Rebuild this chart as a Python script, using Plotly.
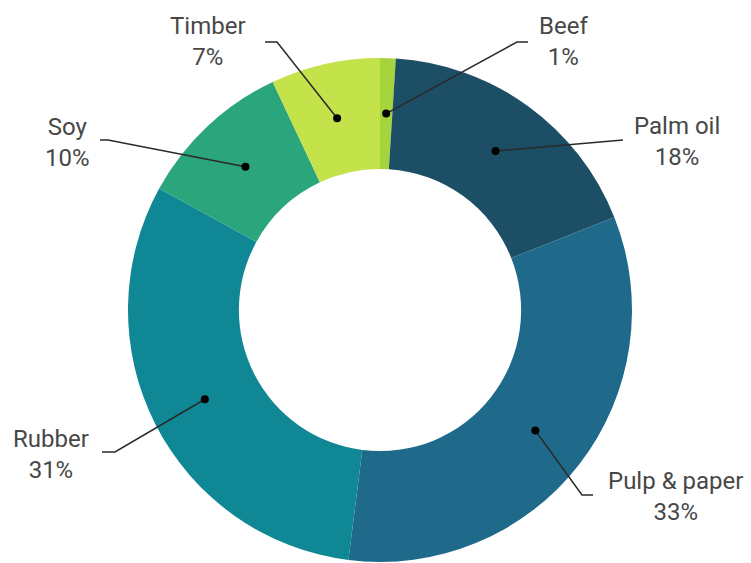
import math
import plotly.graph_objects as go

# ---- data ----
categories = ["Beef", "Palm oil", "Pulp & paper", "Rubber", "Soy", "Timber"]
shares = [1, 18, 33, 31, 10, 7]
colors = ["#a6d43c", "#1c4e66", "#1f6a8b", "#0f8794", "#2ba57c", "#c4e34b"]

# ---- layout geometry (pixels) ----
W, H = 751, 563
CX, CY, R_OUT = 380, 310, 252
HOLE = 0.56
R_DOT = R_OUT * (1 + HOLE) / 2

# label centre, elbow and end of leader (pixels), per category
label_pos = {
    "Beef": (563, 42),
    "Palm oil": (677, 141),
    "Pulp & paper": (675, 496),
    "Rubber": (51, 455),
    "Soy": (67, 142),
    "Timber": (208, 42),
}
leader = {
    "Beef": [(517, 42), (528, 42)],
    "Palm oil": [(623, 140)],
    "Pulp & paper": [(582, 495), (593, 495)],
    "Rubber": [(115, 452), (102, 452)],
    "Soy": [(108, 140), (100, 140)],
    "Timber": [(277, 42), (265, 42)],
}

def px(x):
    return x / W

def py(y):
    return 1 - y / H

fig = go.Figure()
fig.add_trace(go.Pie(
    labels=categories, values=shares, hole=HOLE, sort=False,
    direction="clockwise", rotation=0,
    marker=dict(colors=colors, line=dict(width=0)),
    textinfo="none", hoverinfo="label+percent", showlegend=False,
    domain=dict(x=[px(CX - R_OUT), px(CX + R_OUT)], y=[py(CY + R_OUT), py(CY - R_OUT)]),
))

total = sum(shares)
shapes = []
annotations = []
cum = 0
for cat, v in zip(categories, shares):
    mid = (cum + v / 2) / total * 2 * math.pi
    cum += v
    dx = CX + R_DOT * math.sin(mid)
    dy = CY - R_DOT * math.cos(mid)
    pts = [(dx, dy)] + leader[cat]
    path = "M " + " L ".join(f"{px(x)},{py(y)}" for x, y in pts)
    shapes.append(dict(type="path", path=path, xref="paper", yref="paper",
                       line=dict(color="#2a2a2a", width=1.5), layer="above"))
    r = 4
    shapes.append(dict(type="circle", xref="paper", yref="paper",
                       x0=px(dx - r), x1=px(dx + r), y0=py(dy + r), y1=py(dy - r),
                       fillcolor="#000000", line=dict(width=0), layer="above"))
    lx, ly = label_pos[cat]
    annotations.append(dict(
        text=f"{cat}<br>{round(v / total * 100)}%", x=px(lx), y=py(ly),
        xref="paper", yref="paper", xanchor="center", yanchor="middle",
        showarrow=False, font=dict(family="Roboto", size=24, color="#474747"),
    ))

fig.update_layout(
    width=W, height=H, margin=dict(l=0, r=0, t=0, b=0),
    paper_bgcolor="white", plot_bgcolor="white",
    shapes=shapes, annotations=annotations,
)
fig.write_html(
    "out.html",
    config={"displayModeBar": False},
    post_script="document.body.style.margin='0';document.body.style.overflow='hidden';",
)
